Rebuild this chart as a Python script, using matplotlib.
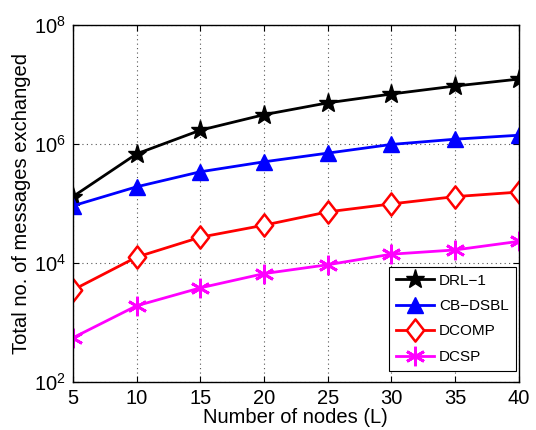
import matplotlib
matplotlib.use("Agg")
import matplotlib.pyplot as plt
from matplotlib.ticker import NullLocator, FixedLocator
from matplotlib.path import Path

plt.rcParams['font.family'] = ['Liberation Sans', 'DejaVu Sans']

nodes = [5, 10, 15, 20, 25, 30, 35, 40]
drl1 = [1.3e5, 6.8e5, 1.7e6, 3.1e6, 4.9e6, 6.9e6, 9.4e6, 1.23e7]
cbdsbl = [9.1e4, 1.9e5, 3.4e5, 5.0e5, 7.0e5, 9.8e5, 1.2e6, 1.4e6]
dcomp = [3.5e3, 1.25e4, 2.7e4, 4.3e4, 7.2e4, 9.8e4, 1.3e5, 1.55e5]
dcsp = [550, 1.9e3, 3.8e3, 6.6e3, 9.3e3, 1.4e4, 1.65e4, 2.3e4]
labels = ['DRL\u22121', 'CB\u2212DSBL', 'DCOMP', 'DCSP']

diamond = Path([(0, 1), (0.78, 0), (0, -1), (-0.78, 0), (0, 1)],
               [Path.MOVETO, Path.LINETO, Path.LINETO, Path.LINETO, Path.CLOSEPOLY])

fig = plt.figure(figsize=(5.36, 4.30), dpi=100)
ax = fig.add_axes([0.136, 0.112, 0.832, 0.830])

ax.plot(nodes, drl1, color='black', lw=2, marker='*', ms=14, mfc='black', label=labels[0])
ax.plot(nodes, cbdsbl, color='blue', lw=2, marker='^', ms=12, mfc='blue', label=labels[1])
ax.plot(nodes, dcomp, color='red', lw=2, marker=diamond, ms=16, mfc='white', mew=1.8, label=labels[2])
ax.plot(nodes, dcsp, color='magenta', lw=2, marker=(6, 2, 0), ms=14, mew=2, label=labels[3])

ax.set_yscale('log')
ax.set_ylim(1e2, 1e8)
ax.set_xlim(5, 40)
ax.xaxis.set_major_locator(FixedLocator(nodes))
ax.yaxis.set_major_locator(FixedLocator([1e2, 1e4, 1e6, 1e8]))
ax.yaxis.set_minor_locator(NullLocator())
ax.grid(True, which='major', linestyle=(0, (1, 3)), color='#555555', lw=0.8)
ax.tick_params(direction='in', labelsize=14.5, top=True, right=True, length=4, pad=5)
for s in ax.spines.values():
    s.set_linewidth(1.0)

ax.set_xlabel('Number of nodes (L)', fontsize=14.5, labelpad=0)
ax.set_ylabel('Total no. of messages exchanged', fontsize=14.5, labelpad=2)

leg = ax.legend(loc='lower right', bbox_to_anchor=(0.993, 0.031), fontsize=11,
                frameon=True, fancybox=False, edgecolor='black', framealpha=1,
                borderaxespad=0.0, handlelength=2.5, labelspacing=0.75,
                handletextpad=0.35, borderpad=0.45)
leg.get_frame().set_linewidth(0.8)

fig.savefig('out.png', dpi=100)
